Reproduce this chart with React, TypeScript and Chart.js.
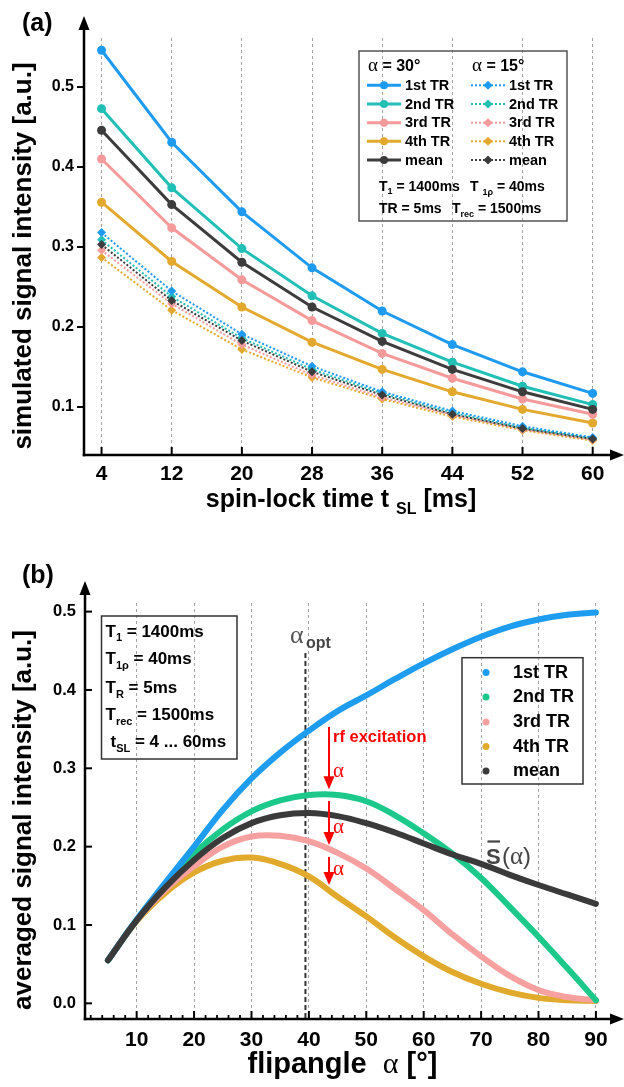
import React, { useEffect, useRef } from "react";
import { Chart, registerables } from "chart.js";
Chart.register(...registerables);

const SANS = '"Liberation Sans", Arial, Helvetica, sans-serif';
const SERIF = '"Liberation Serif", "DejaVu Serif", "Times New Roman", serif';

// ---------------- Panel (a) data ----------------
const spinLockTimes = [4, 12, 20, 28, 36, 44, 52, 60];
const xTicksA = [4, 12, 20, 28, 36, 44, 52, 60];
const yTicksA = [0.1, 0.2, 0.3, 0.4, 0.5];
const seriesNames = ["1st TR", "2nd TR", "3rd TR", "4th TR", "mean"];

const a30_1st = [0.546, 0.431, 0.344, 0.274, 0.22, 0.178, 0.144, 0.117];
const a30_2nd = [0.473, 0.374, 0.298, 0.239, 0.192, 0.156, 0.126, 0.103];
const a30_3rd = [0.41, 0.324, 0.259, 0.208, 0.167, 0.136, 0.11, 0.091];
const a30_4th = [0.356, 0.282, 0.225, 0.181, 0.147, 0.119, 0.097, 0.08];
const a30_mean = [0.446, 0.353, 0.281, 0.225, 0.182, 0.147, 0.119, 0.097];

const a15_1st = [0.318, 0.245, 0.191, 0.151, 0.119, 0.095, 0.076, 0.062];
const a15_2nd = [0.309, 0.238, 0.186, 0.147, 0.117, 0.093, 0.074, 0.061];
const a15_3rd = [0.296, 0.229, 0.178, 0.14, 0.112, 0.09, 0.072, 0.059];
const a15_4th = [0.287, 0.221, 0.172, 0.137, 0.11, 0.088, 0.071, 0.058];
const a15_mean = [0.303, 0.233, 0.183, 0.144, 0.115, 0.091, 0.073, 0.06];

const colorsA = ["#1E9BF0", "#22BFB6", "#F59A9A", "#E3A82E", "#3C3C3C"];

// ---------------- Panel (b) data ----------------
const flipAngles = [5, 10, 15, 20, 25, 30, 35, 40, 45, 50, 55, 60, 65, 70, 75, 80, 85, 90];
const xTicksB = [10, 20, 30, 40, 50, 60, 70, 80, 90];
const xMinorTicksB = [2, 4, 6, 8, 12, 14, 16, 18, 22, 24, 26, 28, 32, 34, 36, 38, 42, 44, 46, 48, 52, 54, 56, 58, 62, 64, 66, 68, 72, 74, 76, 78, 82, 84, 86, 88];
const yTicksB = [0, 0.1, 0.2, 0.3, 0.4, 0.5];

const b_1st = [0.055, 0.107, 0.154, 0.2, 0.247, 0.287, 0.32, 0.348, 0.373, 0.393, 0.414, 0.434, 0.452, 0.468, 0.481, 0.49, 0.496, 0.499];
const b_2nd = [0.055, 0.106, 0.151, 0.191, 0.222, 0.245, 0.259, 0.266, 0.266, 0.258, 0.24, 0.217, 0.191, 0.16, 0.123, 0.085, 0.045, 0.004];
const b_3rd = [0.055, 0.106, 0.145, 0.175, 0.2, 0.213, 0.214, 0.207, 0.192, 0.172, 0.146, 0.119, 0.088, 0.06, 0.035, 0.017, 0.008, 0.004];
const b_4th = [0.055, 0.105, 0.141, 0.167, 0.182, 0.186, 0.178, 0.162, 0.136, 0.111, 0.084, 0.06, 0.04, 0.025, 0.014, 0.007, 0.004, 0.003];
const b_mean = [0.055, 0.106, 0.148, 0.183, 0.211, 0.23, 0.24, 0.243, 0.239, 0.23, 0.218, 0.204, 0.19, 0.178, 0.164, 0.151, 0.139, 0.127];

const colorsB = ["#1E9CF0", "#1DC98A", "#F7A0A0", "#E2AA2C", "#3A3A3A"];

const alphaOpt = 39.4;
const rfAlpha = 43.5;
const rfArrows = [
  [0.3528, 0.2733],
  [0.2583, 0.2022],
  [0.1869, 0.1512],
];

type Part = { t: string; f: string; dy?: number; c?: string };

function drawRich(ctx: CanvasRenderingContext2D, x: number, y: number, parts: Part[]) {
  let cx = x;
  ctx.textAlign = "left";
  for (const p of parts) {
    ctx.font = p.f;
    if (p.c) ctx.fillStyle = p.c;
    ctx.fillText(p.t, cx, y + (p.dy || 0));
    cx += ctx.measureText(p.t).width;
  }
  return cx;
}
function richWidth(ctx: CanvasRenderingContext2D, parts: Part[]) {
  let w = 0;
  for (const p of parts) {
    ctx.font = p.f;
    w += ctx.measureText(p.t).width;
  }
  return w;
}
function line(ctx: CanvasRenderingContext2D, x1: number, y1: number, x2: number, y2: number) {
  ctx.beginPath();
  ctx.moveTo(x1, y1);
  ctx.lineTo(x2, y2);
  ctx.stroke();
}
function drawAxesArrows(ctx: CanvasRenderingContext2D, ca: any, yTip: number, xTip: number) {
  ctx.strokeStyle = "#000";
  ctx.fillStyle = "#000";
  ctx.lineWidth = 2.5;
  ctx.setLineDash([]);
  line(ctx, ca.left, ca.bottom + 1.25, ca.left, yTip + 10);
  ctx.beginPath();
  ctx.moveTo(ca.left, yTip);
  ctx.lineTo(ca.left - 5.5, yTip + 14);
  ctx.lineTo(ca.left + 5.5, yTip + 14);
  ctx.closePath();
  ctx.fill();
  line(ctx, ca.left - 1.25, ca.bottom, xTip - 10, ca.bottom);
  ctx.beginPath();
  ctx.moveTo(xTip, ca.bottom);
  ctx.lineTo(xTip - 14, ca.bottom - 5.5);
  ctx.lineTo(xTip - 14, ca.bottom + 5.5);
  ctx.closePath();
  ctx.fill();
}

const panelAPlugin = {
  id: "panelA",
  afterDraw(chart: any) {
    const ctx: CanvasRenderingContext2D = chart.ctx;
    const ca = chart.chartArea;
    const xs = chart.scales.x;
    const ys = chart.scales.y;
    ctx.save();
    drawAxesArrows(ctx, ca, 16, 624);
    ctx.lineWidth = 2;
    for (const v of yTicksA) {
      const y = ys.getPixelForValue(v);
      line(ctx, ca.left - 7, y, ca.left, y);
    }
    for (const v of xTicksA) {
      const x = xs.getPixelForValue(v);
      line(ctx, x, ca.bottom, x, ca.bottom - 8);
    }
    ctx.fillStyle = "#000";
    ctx.textBaseline = "alphabetic";
    ctx.textAlign = "left";
    ctx.font = `bold 25px ${SANS}`;
    ctx.fillText("(a)", 22, 31);

    // y title
    ctx.save();
    ctx.translate(31, 256);
    ctx.rotate(-Math.PI / 2);
    ctx.textAlign = "center";
    ctx.font = `bold 26px ${SANS}`;
    ctx.fillText("simulated signal intensity [a.u.]", 0, 0);
    ctx.restore();

    // x title
    const xt: Part[] = [
      { t: "spin-lock time t ", f: `bold 25px ${SANS}` },
      { t: "SL", f: `bold 16px ${SANS}`, dy: 7 },
      { t: " [ms]", f: `bold 25px ${SANS}` },
    ];
    const w = richWidth(ctx, xt);
    drawRich(ctx, 341 - w / 2, 507, xt);

    // legend box
    ctx.strokeStyle = "#555";
    ctx.lineWidth = 1.5;
    ctx.strokeRect(359, 51, 208, 170);
    ctx.fillStyle = "#000";
    drawRich(ctx, 368, 70.5, [
      { t: "α", f: `19px ${SERIF}` },
      { t: " = 30°", f: `bold 16px ${SANS}` },
    ]);
    drawRich(ctx, 472, 70.5, [
      { t: "α", f: `19px ${SERIF}` },
      { t: " = 15°", f: `bold 16px ${SANS}` },
    ]);
    const rowY = [85.3, 104, 122.7, 141.3, 160];
    const ds = chart.data.datasets;
    for (let i = 0; i < 5; i++) {
      const y = rowY[i];
      const cSolid = ds[i].borderColor;
      const cDot = ds[i + 5].borderColor;
      ctx.setLineDash([]);
      ctx.strokeStyle = cSolid;
      ctx.lineWidth = 3;
      line(ctx, 367, y, 401, y);
      ctx.fillStyle = cSolid;
      ctx.beginPath();
      ctx.arc(384, y, 4, 0, Math.PI * 2);
      ctx.fill();
      ctx.strokeStyle = cDot;
      ctx.lineWidth = 2;
      ctx.setLineDash([2, 2]);
      line(ctx, 471, y, 505, y);
      ctx.setLineDash([]);
      ctx.fillStyle = cDot;
      ctx.beginPath();
      ctx.moveTo(488, y - 4.5);
      ctx.lineTo(492.5, y);
      ctx.lineTo(488, y + 4.5);
      ctx.lineTo(483.5, y);
      ctx.closePath();
      ctx.fill();
      ctx.fillStyle = "#000";
      ctx.font = `bold 14.5px ${SANS}`;
      ctx.textBaseline = "middle";
      ctx.fillText(seriesNames[i], 405, y + 0.5);
      ctx.fillText(seriesNames[i], 509, y + 0.5);
      ctx.textBaseline = "alphabetic";
    }
    const big = `bold 14px ${SANS}`;
    const sub = `bold 9px ${SANS}`;
    ctx.fillStyle = "#000";
    drawRich(ctx, 379, 190.5, [
      { t: "T", f: big },
      { t: "1", f: sub, dy: 3.5 },
      { t: " = 1400ms", f: big },
    ]);
    drawRich(ctx, 470, 190.5, [
      { t: "T ", f: big },
      { t: "1ρ", f: sub, dy: 4 },
      { t: " = 40ms", f: big },
    ]);
    drawRich(ctx, 379, 212.5, [{ t: "TR = 5ms", f: big }]);
    drawRich(ctx, 452, 212.5, [
      { t: "T", f: big },
      { t: "rec", f: sub, dy: 4 },
      { t: " = 1500ms", f: big },
    ]);
    ctx.restore();
  },
};

const panelBPlugin = {
  id: "panelB",
  beforeDatasetsDraw(chart: any) {
    const ctx: CanvasRenderingContext2D = chart.ctx;
    const ca = chart.chartArea;
    const xs = chart.scales.x;
    ctx.save();
    const x = xs.getPixelForValue(alphaOpt);
    ctx.strokeStyle = "#333";
    ctx.lineWidth = 2;
    ctx.setLineDash([5, 3]);
    line(ctx, x, 123, x, ca.bottom);
    ctx.restore();
  },
  afterDraw(chart: any) {
    const ctx: CanvasRenderingContext2D = chart.ctx;
    const ca = chart.chartArea;
    const xs = chart.scales.x;
    const ys = chart.scales.y;
    ctx.save();
    drawAxesArrows(ctx, ca, 51, 624);
    ctx.lineWidth = 2;
    for (const v of yTicksB) {
      const y = ys.getPixelForValue(v);
      line(ctx, ca.left, y, ca.left + 7, y);
    }
    for (const v of xTicksB) {
      const x = xs.getPixelForValue(v);
      line(ctx, x, ca.bottom, x, ca.bottom - 8);
    }
    ctx.lineWidth = 1.8;
    for (const v of xMinorTicksB) {
      const x = xs.getPixelForValue(v);
      line(ctx, x, ca.bottom, x, ca.bottom - 4);
    }
    ctx.fillStyle = "#000";
    ctx.textBaseline = "alphabetic";
    ctx.textAlign = "left";
    ctx.font = `bold 25px ${SANS}`;
    ctx.fillText("(b)", 22, 52.5);

    // y title
    ctx.save();
    ctx.translate(31, 290);
    ctx.rotate(-Math.PI / 2);
    ctx.textAlign = "center";
    ctx.font = `bold 26px ${SANS}`;
    ctx.fillText("averaged signal intensity [a.u.]", 0, 0);
    ctx.restore();

    // x title
    const xt: Part[] = [
      { t: "flipangle  ", f: `bold 29px ${SANS}` },
      { t: "α", f: `30px ${SERIF}` },
      { t: " [°]", f: `bold 29px ${SANS}` },
    ];
    const w = richWidth(ctx, xt);
    drawRich(ctx, 342.5 - w / 2, 543, xt);

    // parameter box
    ctx.strokeStyle = "#333";
    ctx.lineWidth = 1.5;
    ctx.setLineDash([]);
    ctx.strokeRect(101.5, 86, 135.5, 143);
    const big = `bold 17px ${SANS}`;
    const sub = `bold 11px ${SANS}`;
    ctx.fillStyle = "#000";
    drawRich(ctx, 105.5, 106.5, [
      { t: "T", f: big },
      { t: "1", f: sub, dy: 4 },
      { t: " = 1400ms", f: big },
    ]);
    drawRich(ctx, 105.5, 133.5, [
      { t: "T", f: big },
      { t: "1ρ", f: sub, dy: 5 },
      { t: " = 40ms", f: big },
    ]);
    drawRich(ctx, 105.5, 162.5, [
      { t: "T", f: big },
      { t: "R", f: sub, dy: 5 },
      { t: " = 5ms", f: big },
    ]);
    drawRich(ctx, 105.5, 190, [
      { t: "T", f: big },
      { t: "rec", f: sub, dy: 5 },
      { t: " = 1500ms", f: big },
    ]);
    drawRich(ctx, 110.5, 216.5, [
      { t: "t", f: big },
      { t: "SL", f: sub, dy: 5 },
      { t: " = 4 ... 60ms", f: big },
    ]);

    // legend box
    ctx.strokeStyle = "#333";
    ctx.lineWidth = 1.5;
    ctx.strokeRect(462, 127.7, 121, 126.3);
    const rowY = [142.5, 167, 192, 216.5, 241];
    const ds = chart.data.datasets;
    for (let i = 0; i < 5; i++) {
      ctx.fillStyle = ds[i].borderColor;
      ctx.beginPath();
      ctx.arc(486, rowY[i], 3.5, 0, Math.PI * 2);
      ctx.fill();
      ctx.fillStyle = "#000";
      ctx.font = `bold 18px ${SANS}`;
      ctx.textBaseline = "middle";
      ctx.fillText(seriesNames[i], 513, rowY[i] + 0.5);
    }
    ctx.textBaseline = "alphabetic";

    // alpha_opt label
    drawRich(ctx, 290, 113, [{ t: "α", f: `26px ${SERIF}`, c: "#555" }]);
    drawRich(ctx, 306, 118, [{ t: "opt", f: `bold 16px ${SANS}`, c: "#444" }]);

    // rf excitation arrows
    const ax = xs.getPixelForValue(rfAlpha);
    ctx.strokeStyle = "#FF0000";
    ctx.fillStyle = "#FF0000";
    ctx.lineWidth = 2;
    for (const [v0, v1] of rfArrows) {
      const y0 = ys.getPixelForValue(v0);
      const y1 = ys.getPixelForValue(v1);
      line(ctx, ax, y0, ax, y1 - 10);
      ctx.beginPath();
      ctx.moveTo(ax, y1);
      ctx.lineTo(ax - 5.5, y1 - 13);
      ctx.lineTo(ax + 5.5, y1 - 13);
      ctx.closePath();
      ctx.fill();
    }
    ctx.fillStyle = "#FF0000";
    ctx.font = `bold 16.5px ${SANS}`;
    ctx.fillText("rf excitation", 333, 212);
    ctx.font = `21px ${SERIF}`;
    ctx.fillText("α", 333, 246.5);
    ctx.fillText("α", 333, 303);
    ctx.fillText("α", 333, 345);

    // S-bar label
    ctx.fillStyle = "#444";
    ctx.font = `bold 22px ${SANS}`;
    ctx.fillText("S", 486, 334);
    ctx.strokeStyle = "#444";
    ctx.lineWidth = 2.2;
    line(ctx, 487.5, 311.5, 500, 311.5);
    drawRich(ctx, 502, 334, [
      { t: "(", f: `24px ${SANS}`, c: "#444" },
      { t: "α", f: `25px ${SERIF}` },
      { t: ")", f: `24px ${SANS}` },
    ]);
    ctx.restore();
  },
};

function PanelA() {
  const ref = useRef<HTMLCanvasElement | null>(null);
  useEffect(() => {
    if (!ref.current) return;
    const solid = [a30_1st, a30_2nd, a30_3rd, a30_4th, a30_mean];
    const dotted = [a15_1st, a15_2nd, a15_3rd, a15_4th, a15_mean];
    const datasets: any[] = [];
    solid.forEach((vals, i) => {
      datasets.push({
        label: "α=30° " + seriesNames[i],
        data: spinLockTimes.map((t, j) => ({ x: t, y: vals[j] })),
        borderColor: colorsA[i],
        backgroundColor: colorsA[i],
        borderWidth: 3,
        pointRadius: 4.5,
        pointStyle: "circle",
        pointBorderWidth: 0,
        pointBackgroundColor: colorsA[i],
        tension: 0,
        order: i === 4 ? 1 : 2 + i,
      });
    });
    dotted.forEach((vals, i) => {
      datasets.push({
        label: "α=15° " + seriesNames[i],
        data: spinLockTimes.map((t, j) => ({ x: t, y: vals[j] })),
        borderColor: colorsA[i],
        backgroundColor: colorsA[i],
        borderWidth: 2,
        borderDash: [2, 2],
        pointRadius: 4.5,
        pointStyle: "rectRot",
        pointBorderWidth: 0,
        pointBackgroundColor: colorsA[i],
        tension: 0,
        order: i === 4 ? 7 : 8 + i,
      });
    });
    const chart = new Chart(ref.current, {
      type: "line",
      data: { datasets },
      options: {
        responsive: false,
        animation: false,
        devicePixelRatio: 1,
        layout: { padding: { top: 38, right: 5, left: 0, bottom: 0 } },
        plugins: { legend: { display: false }, tooltip: { enabled: false } },
        scales: {
          x: {
            type: "linear",
            min: 2,
            max: 63,
            afterBuildTicks: (s: any) => {
              s.ticks = xTicksA.map((v) => ({ value: v }));
            },
            afterFit: (s: any) => {
              s.height = 75;
            },
            grid: { display: true, drawOnChartArea: true, drawTicks: false, tickLength: 0, color: "#a3a3a3", lineWidth: 1 },
            border: { display: false, dash: [3, 3] },
            ticks: {
              autoSkip: false,
              maxRotation: 0,
              padding: 7,
              color: "#000",
              font: { family: SANS, size: 21, weight: "bold" },
              callback: (v: any) => String(v),
            },
          },
          y: {
            type: "linear",
            min: 0.04,
            max: 0.5613,
            afterBuildTicks: (s: any) => {
              s.ticks = yTicksA.map((v) => ({ value: v }));
            },
            afterFit: (s: any) => {
              s.width = 84;
            },
            grid: { display: false, drawTicks: false, tickLength: 0 },
            border: { display: false },
            ticks: {
              padding: 10,
              color: "#000",
              font: { family: SANS, size: 16, weight: "bold" },
              callback: (v: any) => Number(v).toFixed(1),
            },
          },
        },
      } as any,
      plugins: [panelAPlugin],
    });
    return () => chart.destroy();
  }, []);
  return <canvas ref={ref} width={624} height={530} style={{ display: "block", position: "absolute", left: 0, top: 0 }} />;
}

function PanelB() {
  const ref = useRef<HTMLCanvasElement | null>(null);
  useEffect(() => {
    if (!ref.current) return;
    const series = [b_1st, b_2nd, b_3rd, b_4th, b_mean];
    const datasets = series.map((vals, i) => ({
      label: seriesNames[i],
      data: flipAngles.map((a, j) => ({ x: a, y: vals[j] })),
      borderColor: colorsB[i],
      backgroundColor: colorsB[i],
      borderWidth: 6,
      pointRadius: 0,
      borderCapStyle: "round",
      borderJoinStyle: "round",
      tension: 0.4,
      order: i === 4 ? 0 : i + 1,
    }));
    const chart = new Chart(ref.current, {
      type: "line",
      data: { datasets },
      options: {
        responsive: false,
        animation: false,
        devicePixelRatio: 1,
        layout: { padding: { top: 73, right: 16.6, left: 0, bottom: 0 } },
        plugins: { legend: { display: false }, tooltip: { enabled: false } },
        scales: {
          x: {
            type: "linear",
            min: 1,
            max: 92,
            afterBuildTicks: (s: any) => {
              s.ticks = xTicksB.map((v) => ({ value: v }));
            },
            afterFit: (s: any) => {
              s.height = 68;
            },
            grid: { display: true, drawOnChartArea: true, drawTicks: false, tickLength: 0, color: "#a3a3a3", lineWidth: 1 },
            border: { display: false, dash: [3, 3] },
            ticks: {
              autoSkip: false,
              maxRotation: 0,
              padding: 9,
              color: "#000",
              font: { family: SANS, size: 21, weight: "bold" },
              callback: (v: any) => String(v),
            },
          },
          y: {
            type: "linear",
            min: -0.02,
            max: 0.511,
            afterBuildTicks: (s: any) => {
              s.ticks = yTicksB.map((v) => ({ value: v }));
            },
            afterFit: (s: any) => {
              s.width = 85;
            },
            grid: { display: false, drawTicks: false, tickLength: 0 },
            border: { display: false },
            ticks: {
              padding: 9,
              color: "#000",
              font: { family: SANS, size: 16.5, weight: "bold" },
              callback: (v: any) => Number(v).toFixed(1),
            },
          },
        },
      } as any,
      plugins: [panelBPlugin],
    });
    return () => chart.destroy();
  }, []);
  return <canvas ref={ref} width={624} height={557} style={{ display: "block", position: "absolute", left: 0, top: 530 }} />;
}

export default function App() {
  return (
    <div style={{ position: "fixed", left: 0, top: 0, width: 624, height: 1087, background: "#fff", overflow: "hidden" }}>
      <PanelA />
      <PanelB />
    </div>
  );
}
